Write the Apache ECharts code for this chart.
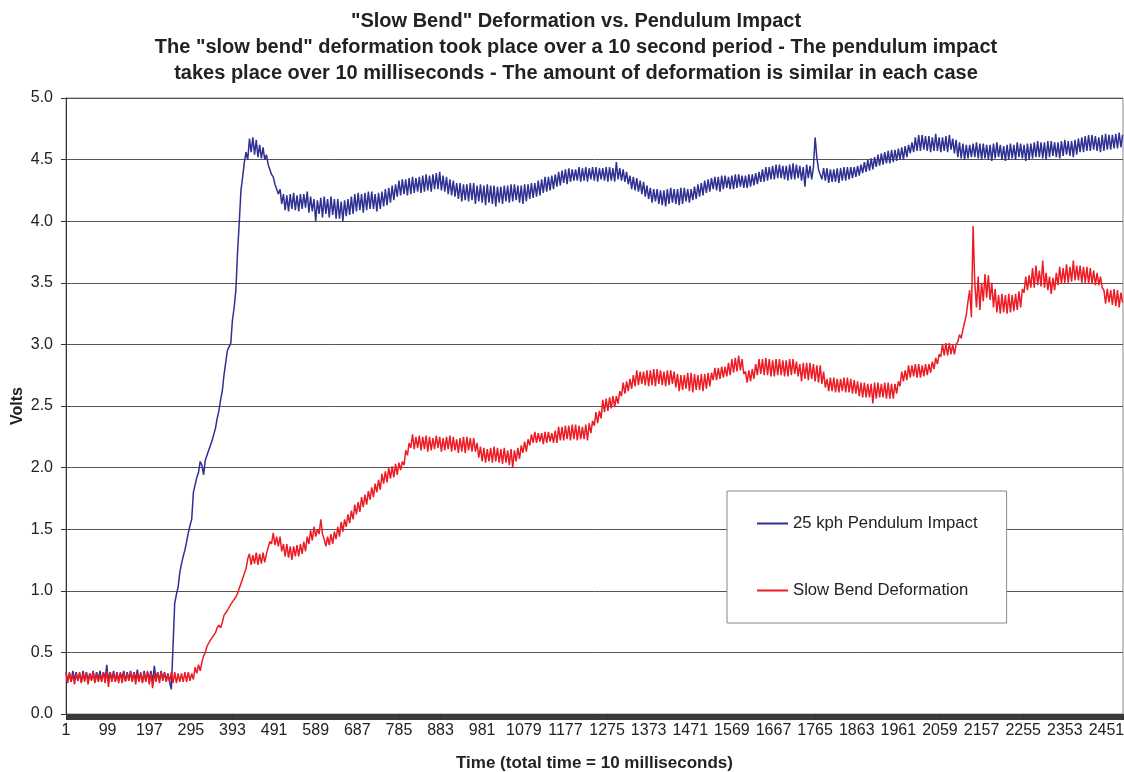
<!DOCTYPE html>
<html>
<head>
<meta charset="utf-8">
<title>Slow Bend Deformation vs. Pendulum Impact</title>
<script src="https://cdn.jsdelivr.net/npm/echarts@6/dist/echarts.min.js"></script>
<style>
  html, body { margin: 0; padding: 0; background: #fff; }
  #chart { width: 1124px; height: 772px; }
</style>
</head>
<body>
<div id="chart"></div>
<script>
// Readings are listed every SAMPLE_STEP samples; x runs on zero-based sample offsets.
const SAMPLE_STEP = 4;
const X_MAX = 2489;
const X_TICK_STEP = 98;

const titleLines = [
  '"Slow Bend" Deformation vs. Pendulum Impact',
  'The "slow bend" deformation took place over a 10 second period - The pendulum impact',
  'takes place over 10 milliseconds - The amount of deformation is similar in each case'
];
const xAxisTitle = 'Time (total time = 10 milliseconds)';
const yAxisTitle = 'Volts';
const seriesNames = ['25 kph Pendulum Impact', 'Slow Bend Deformation'];

// 25 kph pendulum impact, volts (20 readings per row = 80 samples)
const pendulumImpact = [
  0.34,0.27,0.33,0.26,0.35,0.28,0.34,0.27,0.33,0.26,0.35,0.28,0.34,0.27,0.33,0.28,0.35,0.26,0.34,0.28,
  0.35,0.27,0.34,0.28,0.40,0.27,0.34,0.28,0.35,0.26,0.34,0.27,0.33,0.29,0.35,0.27,0.34,0.28,0.35,0.27,
  0.34,0.28,0.36,0.27,0.33,0.26,0.35,0.27,0.34,0.28,0.35,0.26,0.39,0.28,0.34,0.27,0.35,0.28,0.34,0.27,
  0.33,0.26,0.20,0.55,0.90,0.97,1.03,1.15,1.22,1.28,1.33,1.40,1.47,1.53,1.58,1.80,1.86,1.92,1.96,2.05,
  2.02,1.94,2.06,2.05,2.14,2.18,2.22,2.27,2.32,2.40,2.46,2.55,2.62,2.75,2.85,2.95,2.98,3.01,3.20,3.30,
  3.44,3.75,3.99,4.25,4.36,4.48,4.56,4.50,4.67,4.56,4.68,4.54,4.66,4.52,4.62,4.51,4.60,4.50,4.54,4.46,
  4.46,4.38,4.36,4.30,4.31,4.22,4.26,4.14,4.22,4.09,4.21,4.08,4.22,4.10,4.23,4.09,4.21,4.08,4.22,4.10,
  4.22,4.11,4.24,4.07,4.20,4.08,4.18,4.00,4.17,4.06,4.19,4.03,4.20,4.06,4.18,4.03,4.20,4.05,4.18,4.02,
  4.18,4.02,4.16,4.00,4.17,4.04,4.18,4.05,4.20,4.06,4.22,4.08,4.23,4.09,4.22,4.07,4.23,4.09,4.24,4.10,
  4.24,4.10,4.22,4.08,4.23,4.10,4.24,4.12,4.26,4.13,4.27,4.15,4.29,4.17,4.30,4.20,4.33,4.21,4.34,4.22,
  4.34,4.21,4.35,4.22,4.36,4.23,4.35,4.24,4.36,4.23,4.37,4.24,4.38,4.25,4.37,4.24,4.38,4.26,4.39,4.26,
  4.40,4.25,4.37,4.24,4.36,4.22,4.34,4.21,4.33,4.20,4.31,4.18,4.31,4.16,4.30,4.17,4.30,4.16,4.31,4.17,
  4.31,4.14,4.29,4.16,4.30,4.15,4.29,4.13,4.30,4.15,4.29,4.14,4.29,4.12,4.28,4.15,4.28,4.14,4.29,4.16,
  4.29,4.15,4.30,4.16,4.30,4.17,4.29,4.15,4.29,4.14,4.30,4.16,4.30,4.18,4.31,4.19,4.31,4.20,4.33,4.21,
  4.34,4.23,4.36,4.24,4.36,4.25,4.37,4.26,4.38,4.28,4.40,4.29,4.41,4.31,4.42,4.30,4.43,4.32,4.42,4.33,
  4.42,4.33,4.44,4.32,4.43,4.33,4.44,4.32,4.43,4.34,4.44,4.33,4.44,4.32,4.43,4.34,4.43,4.33,4.44,4.32,
  4.44,4.33,4.43,4.32,4.48,4.34,4.43,4.33,4.42,4.32,4.40,4.30,4.37,4.26,4.36,4.25,4.35,4.24,4.33,4.22,
  4.32,4.20,4.29,4.18,4.27,4.15,4.26,4.16,4.26,4.14,4.25,4.13,4.25,4.12,4.26,4.14,4.27,4.15,4.26,4.14,
  4.26,4.13,4.27,4.14,4.27,4.16,4.26,4.15,4.26,4.17,4.28,4.18,4.30,4.20,4.31,4.21,4.33,4.23,4.34,4.24,
  4.35,4.26,4.36,4.25,4.36,4.24,4.37,4.26,4.37,4.27,4.36,4.26,4.37,4.26,4.38,4.27,4.38,4.28,4.37,4.27,
  4.37,4.27,4.38,4.28,4.38,4.29,4.39,4.30,4.40,4.32,4.42,4.32,4.44,4.33,4.44,4.34,4.45,4.34,4.46,4.35,
  4.46,4.35,4.45,4.34,4.45,4.33,4.46,4.34,4.47,4.34,4.46,4.35,4.45,4.33,4.44,4.28,4.46,4.35,4.45,4.34,
  4.44,4.68,4.52,4.42,4.42,4.34,4.43,4.33,4.43,4.31,4.42,4.32,4.42,4.32,4.43,4.31,4.43,4.33,4.44,4.33,
  4.44,4.34,4.44,4.35,4.44,4.36,4.45,4.37,4.46,4.39,4.48,4.40,4.50,4.41,4.51,4.42,4.52,4.44,4.54,4.45,
  4.55,4.46,4.56,4.47,4.57,4.47,4.58,4.48,4.58,4.49,4.59,4.50,4.60,4.50,4.61,4.52,4.62,4.55,4.64,4.56,
  4.68,4.57,4.70,4.57,4.70,4.58,4.69,4.57,4.69,4.56,4.68,4.57,4.71,4.57,4.68,4.56,4.68,4.57,4.69,4.56,
  4.70,4.58,4.67,4.55,4.66,4.52,4.64,4.51,4.63,4.50,4.62,4.51,4.62,4.52,4.63,4.52,4.64,4.51,4.63,4.50,
  4.63,4.51,4.62,4.50,4.62,4.49,4.63,4.51,4.64,4.52,4.62,4.50,4.61,4.49,4.62,4.50,4.63,4.51,4.62,4.50,
  4.64,4.52,4.63,4.51,4.62,4.49,4.63,4.50,4.63,4.51,4.64,4.52,4.65,4.52,4.64,4.51,4.64,4.50,4.65,4.52,
  4.65,4.53,4.64,4.52,4.64,4.51,4.65,4.53,4.66,4.54,4.65,4.53,4.65,4.52,4.66,4.54,4.67,4.56,4.68,4.56,
  4.69,4.57,4.70,4.57,4.70,4.58,4.69,4.57,4.68,4.56,4.70,4.57,4.71,4.58,4.70,4.58,4.70,4.59,4.71,4.59,
  4.72,4.60,4.70
];

// Slow bend deformation, volts (20 readings per row = 80 samples)
const slowBend = [
  0.33,0.25,0.34,0.26,0.32,0.24,0.33,0.27,0.34,0.25,0.33,0.26,0.34,0.24,0.33,0.27,0.34,0.25,0.33,0.26,
  0.32,0.26,0.34,0.25,0.35,0.22,0.34,0.26,0.33,0.26,0.34,0.25,0.34,0.25,0.33,0.26,0.33,0.27,0.34,0.26,
  0.34,0.24,0.33,0.26,0.34,0.25,0.33,0.26,0.35,0.24,0.33,0.21,0.33,0.26,0.34,0.25,0.34,0.27,0.33,0.26,
  0.33,0.26,0.34,0.25,0.34,0.25,0.33,0.26,0.33,0.26,0.34,0.26,0.34,0.27,0.33,0.28,0.38,0.33,0.40,0.35,
  0.42,0.47,0.50,0.55,0.56,0.60,0.62,0.64,0.66,0.70,0.72,0.70,0.74,0.80,0.82,0.84,0.85,0.89,0.91,0.93,
  0.95,0.98,1.02,1.06,1.10,1.14,1.18,1.26,1.30,1.21,1.29,1.22,1.31,1.21,1.30,1.22,1.31,1.23,1.30,1.35,
  1.40,1.38,1.47,1.37,1.44,1.36,1.44,1.32,1.38,1.28,1.38,1.27,1.36,1.25,1.36,1.28,1.37,1.28,1.38,1.30,
  1.40,1.32,1.44,1.38,1.49,1.41,1.52,1.44,1.50,1.46,1.58,1.46,1.42,1.36,1.44,1.37,1.46,1.38,1.48,1.42,
  1.52,1.44,1.56,1.48,1.58,1.52,1.62,1.55,1.65,1.58,1.70,1.62,1.72,1.64,1.76,1.68,1.78,1.70,1.81,1.74,
  1.84,1.76,1.87,1.80,1.90,1.82,1.95,1.87,1.97,1.88,2.00,1.91,2.01,1.92,2.03,1.94,2.04,1.98,2.05,2.02,
  2.14,2.10,2.20,2.16,2.27,2.15,2.25,2.16,2.26,2.14,2.25,2.15,2.26,2.13,2.25,2.14,2.24,2.15,2.26,2.16,
  2.25,2.13,2.24,2.14,2.25,2.15,2.26,2.13,2.25,2.14,2.23,2.12,2.24,2.13,2.25,2.12,2.25,2.14,2.24,2.13,
  2.24,2.13,2.20,2.08,2.17,2.05,2.16,2.04,2.15,2.05,2.16,2.04,2.17,2.05,2.16,2.04,2.15,2.03,2.16,2.04,
  2.14,2.02,2.15,2.00,2.14,2.05,2.16,2.07,2.18,2.12,2.21,2.13,2.23,2.18,2.27,2.20,2.29,2.20,2.28,2.21,
  2.28,2.19,2.29,2.20,2.29,2.21,2.28,2.20,2.30,2.20,2.33,2.22,2.33,2.22,2.34,2.23,2.34,2.22,2.35,2.23,
  2.35,2.22,2.34,2.23,2.33,2.23,2.35,2.22,2.36,2.28,2.38,2.34,2.45,2.36,2.46,2.40,2.55,2.45,2.56,2.46,
  2.57,2.48,2.58,2.49,2.58,2.52,2.62,2.58,2.69,2.60,2.70,2.62,2.72,2.64,2.75,2.66,2.79,2.67,2.78,2.68,
  2.78,2.67,2.79,2.66,2.79,2.67,2.80,2.66,2.80,2.68,2.79,2.67,2.78,2.66,2.79,2.67,2.79,2.68,2.78,2.65,
  2.76,2.62,2.75,2.63,2.75,2.64,2.77,2.62,2.77,2.61,2.76,2.63,2.75,2.63,2.76,2.62,2.76,2.64,2.77,2.66,
  2.77,2.71,2.81,2.71,2.81,2.72,2.82,2.73,2.82,2.74,2.85,2.75,2.88,2.77,2.89,2.78,2.91,2.79,2.88,2.76,
  2.78,2.69,2.79,2.70,2.80,2.72,2.84,2.75,2.88,2.76,2.88,2.75,2.89,2.75,2.88,2.74,2.87,2.74,2.88,2.75,
  2.88,2.75,2.87,2.74,2.87,2.74,2.88,2.75,2.88,2.76,2.86,2.74,2.84,2.70,2.85,2.72,2.85,2.71,2.85,2.72,
  2.84,2.70,2.83,2.69,2.83,2.68,2.78,2.65,2.72,2.62,2.73,2.62,2.73,2.61,2.72,2.61,2.72,2.62,2.73,2.61,
  2.73,2.61,2.72,2.60,2.71,2.60,2.70,2.58,2.69,2.57,2.69,2.57,2.68,2.57,2.68,2.52,2.69,2.56,2.69,2.57,
  2.68,2.57,2.69,2.56,2.69,2.56,2.68,2.56,2.68,2.60,2.70,2.66,2.78,2.70,2.79,2.71,2.83,2.73,2.83,2.74,
  2.84,2.73,2.84,2.73,2.83,2.74,2.84,2.75,2.84,2.77,2.86,2.80,2.89,2.84,2.92,2.90,3.00,2.91,3.01,2.91,
  3.01,2.92,3.00,2.92,3.00,3.02,3.08,3.05,3.12,3.18,3.24,3.35,3.44,3.22,3.96,3.50,3.30,3.55,3.28,3.50,
  3.35,3.57,3.38,3.56,3.36,3.50,3.30,3.45,3.26,3.40,3.25,3.41,3.26,3.40,3.25,3.41,3.26,3.40,3.27,3.41,
  3.28,3.43,3.30,3.45,3.42,3.55,3.44,3.56,3.46,3.62,3.46,3.64,3.48,3.60,3.47,3.68,3.46,3.58,3.44,3.55,
  3.41,3.54,3.44,3.58,3.48,3.63,3.49,3.62,3.50,3.65,3.50,3.63,3.51,3.68,3.52,3.64,3.52,3.64,3.50,3.63,
  3.50,3.63,3.49,3.62,3.49,3.60,3.48,3.58,3.48,3.55,3.46,3.44,3.33,3.45,3.34,3.44,3.32,3.45,3.31,3.44,
  3.30,3.42,3.34
];

const seriesColors = ['#2e3192', '#ed1c24'];
const FONT = '"Liberation Sans", Arial, Helvetica, sans-serif';

const toPairs = values => values.map((v, i) => [i * SAMPLE_STEP, v]);

const chart = echarts.init(document.getElementById('chart'), null, { renderer: 'canvas' });

chart.setOption({
  animation: false,
  backgroundColor: '#ffffff',
  textStyle: { fontFamily: FONT },
  title: {
    text: titleLines.join('\n'),
    left: 571,
    top: 3,
    textAlign: 'center',
    textStyle: { fontFamily: FONT, fontSize: 20, fontWeight: 'bold', color: '#222', lineHeight: 26 }
  },
  grid: {
    left: 66, right: 1, top: 98, bottom: 58,
    outerBoundsMode: 'none',
    containLabel: false,
    show: true, borderColor: '#888', borderWidth: 1, backgroundColor: 'transparent'
  },
  legend: {
    orient: 'vertical',
    left: 727,
    top: 491,
    data: seriesNames,
    icon: 'rect',
    itemWidth: 31,
    itemHeight: 2,
    itemGap: 50,
    padding: [24, 29, 24, 30],
    backgroundColor: '#fff',
    borderColor: '#888',
    borderWidth: 1,
    borderRadius: 0,
    textStyle: { fontFamily: FONT, fontSize: 16.7, color: '#222' }
  },
  xAxis: {
    type: 'value',
    min: 0,
    max: X_MAX,
    interval: X_TICK_STEP,
    name: xAxisTitle,
    nameLocation: 'middle',
    nameGap: 41,
    nameMoveOverlap: false,
    nameTextStyle: { fontFamily: FONT, fontSize: 17, fontWeight: 'bold', color: '#222' },
    axisLine: { onZero: false, lineStyle: { color: '#333', width: 1 } },
    axisTick: { show: true, length: 6, lineStyle: { color: '#333' } },
    minorTick: { show: true, splitNumber: 49, length: 6, lineStyle: { color: '#3a3a3a' } },
    splitLine: { show: false },
    axisLabel: {
      // labels show one-based sample numbers
      formatter: v => String(v + 1),
      showMaxLabel: false,
      fontFamily: FONT, fontSize: 16, color: '#222', margin: 9
    }
  },
  yAxis: {
    type: 'value',
    min: 0,
    max: 5,
    interval: 0.5,
    name: yAxisTitle,
    nameLocation: 'middle',
    nameGap: 40,
    nameMoveOverlap: false,
    nameTextStyle: { fontFamily: FONT, fontSize: 16, fontWeight: 'bold', color: '#222' },
    axisLine: { show: true, lineStyle: { color: '#333' } },
    axisTick: { show: true, length: 5, lineStyle: { color: '#333' } },
    splitLine: { show: true, lineStyle: { color: '#555', width: 1 } },
    axisLabel: {
      formatter: v => v.toFixed(1),
      fontFamily: FONT, fontSize: 16, color: '#222', margin: 13
    }
  },
  series: [
    {
      name: seriesNames[0],
      type: 'line',
      data: toPairs(pendulumImpact),
      showSymbol: false,
      symbol: 'none',
      color: seriesColors[0],
      lineStyle: { color: seriesColors[0], width: 1.5 },
      z: 2
    },
    {
      name: seriesNames[1],
      type: 'line',
      data: toPairs(slowBend),
      showSymbol: false,
      symbol: 'none',
      color: seriesColors[1],
      lineStyle: { color: seriesColors[1], width: 1.5 },
      z: 3
    }
  ]
});
</script>
</body>
</html>
